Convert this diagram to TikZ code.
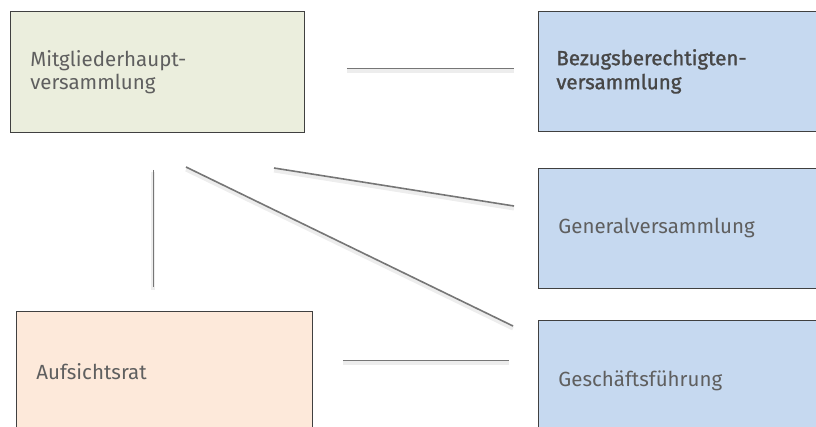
\documentclass[tikz,border=0pt]{standalone}
\usepackage{fontspec}
\setmainfont{Fira Sans}
\newfontfamily\medfont{Fira Sans}[FakeBold=1.3]
\usetikzlibrary{positioning}
\definecolor{mhvfill}{HTML}{EBEEDD}
\definecolor{orgblue}{HTML}{C6D9F0}
\definecolor{arfill}{HTML}{FDE9DA}
\definecolor{txtgray}{HTML}{5F5F5F}
\definecolor{linkgray}{HTML}{767676}
\tikzset{
  orgbox/.style={draw=black!75, line width=0.8pt, minimum height=120pt, text width=#1, inner xsep=20pt, align=left, anchor=north west, text=txtgray, font=\fontsize{20.5}{23}\selectfont},
  link/.style={draw=linkgray, line width=1.6pt, preaction={draw=black!7, line width=4pt, transform canvas={yshift=-2.5pt}}}
}

\begin{document}
\begin{tikzpicture}[x=1pt, y=-1pt]
      \clip (0,0) rectangle (816,426);

      \node[orgbox=254pt, fill=mhvfill, minimum height=121pt] (mhv) at (10,11) {Mitgliederhaupt-\\versammlung};
      \node[orgbox=260pt, fill=orgblue, inner xsep=18pt, text=black!72, font=\fontsize{20.5}{24}\medfont] (bbv) at (538,11) {Bezugsberechtigten-\\versammlung};
      \node[orgbox=260pt, fill=orgblue] (gv) at (538,168) {Generalversammlung};
      \node[orgbox=260pt, fill=orgblue] (gf) at (538,320) {Geschäftsführung};
      \node[orgbox=256pt, fill=arfill] (ar) at (16,311) {Aufsichtsrat};

      \coordinate (mhv-gf) at (186,167);
      \coordinate (gf-mhv) at (513,326);
      \coordinate (mhv-gv) at (274,168);
      \coordinate (gv-mhv) at (514,206);

      \draw[link, shorten <=42pt, shorten >=24pt] ([yshift=3.5pt]mhv.east) -- ([yshift=3.5pt]mhv.east -| bbv.west);
      \draw[link, shorten <=37pt, shorten >=24pt] ([xshift=-4pt]mhv.south) -- ([xshift=-4pt]mhv.south |- ar.north);
      \draw[link] (mhv-gf) -- (gf-mhv);
      \draw[link] (mhv-gv) -- (gv-mhv);
      \draw[link, shorten <=30pt, shorten >=29pt] ([yshift=11pt]ar.east) -- ([yshift=11pt]ar.east -| gf.west);
    \end{tikzpicture}
\end{document}
